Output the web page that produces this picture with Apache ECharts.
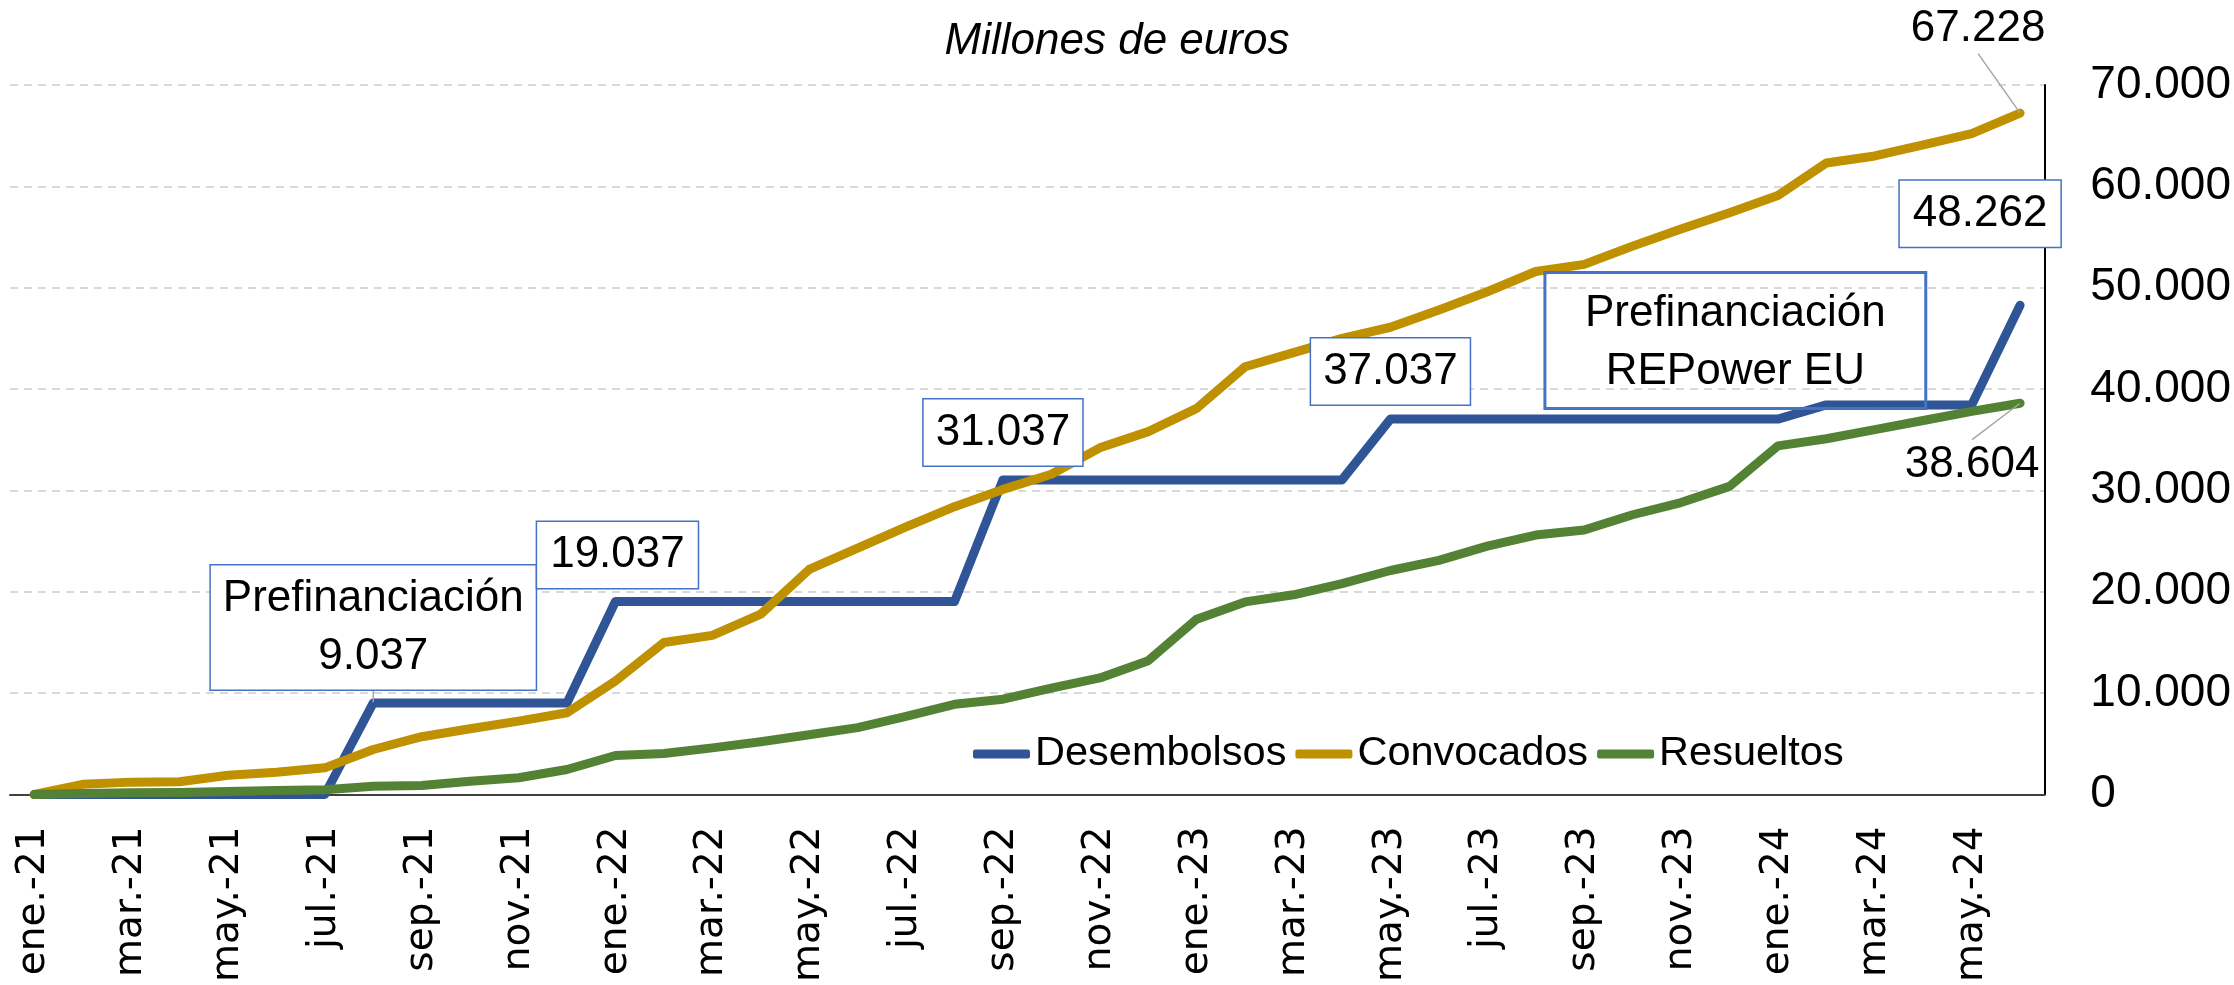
<!DOCTYPE html>
<html>
<head>
<meta charset="utf-8">
<script src="https://cdn.jsdelivr.net/npm/echarts@6/dist/echarts.min.js"></script>
<style>html,body{margin:0;padding:0;background:#fff}#c{width:2234px;height:985px}</style>
</head>
<body>
<div id="c"></div>
<script>
// ---- data ----
const categories = [
  'ene.-21','feb.-21','mar.-21','abr.-21','may.-21','jun.-21','jul.-21','ago.-21','sep.-21','oct.-21','nov.-21','dic.-21',
  'ene.-22','feb.-22','mar.-22','abr.-22','may.-22','jun.-22','jul.-22','ago.-22','sep.-22','oct.-22','nov.-22','dic.-22',
  'ene.-23','feb.-23','mar.-23','abr.-23','may.-23','jun.-23','jul.-23','ago.-23','sep.-23','oct.-23','nov.-23','dic.-23',
  'ene.-24','feb.-24','mar.-24','abr.-24','may.-24','jun.-24'
];
const desembolsos = [0,0,0,0,0,0,0,9037,9037,9037,9037,9037,19037,19037,19037,19037,19037,19037,19037,19037,
  31037,31037,31037,31037,31037,31037,31037,31037,37037,37037,37037,37037,37037,37037,37037,37037,37037,
  38437,38437,38437,38437,48262];
const convocados = [0,1000,1220,1250,1900,2200,2630,4440,5700,6480,7240,8060,11200,15000,15700,17800,22200,24300,
  26400,28400,30100,31600,34200,35800,38100,42200,43600,45000,46100,47800,49600,51600,52300,54100,55800,57400,
  59100,62300,63000,64100,65200,67228];
const resueltos = [0,100,160,200,300,400,460,820,890,1300,1650,2470,3850,4050,4600,5200,5900,6600,7700,8900,
  9400,10500,11500,13200,17300,19000,19700,20800,22100,23100,24500,25600,26100,27600,28800,30400,34400,35100,
  36000,36900,37800,38604];
const seriesNames = ['Desembolsos','Convocados','Resueltos'];
const yTicks = {min: 0, max: 70000, step: 10000};
const title = 'Millones de euros';
// annotated points (text content)
const annotations = [
  {series:'Desembolsos', index:7,  prefix:'Prefinanciación'},
  {series:'Desembolsos', index:12},
  {series:'Desembolsos', index:20},
  {series:'Desembolsos', index:28},
  {series:'Desembolsos', index:37, text:'Prefinanciación\nREPower EU'},
  {series:'Desembolsos', index:41},
  {series:'Convocados',  index:41},
  {series:'Resueltos',   index:41}
];

// ---- styles / placement ----
const FONT = "'Liberation Sans','Arial',sans-serif";
const FS = 44;
const colors = {Desembolsos:'#2F5597', Convocados:'#BF9000', Resueltos:'#548235'};
const boxStyle = {backgroundColor:'#fff', borderColor:'#4472C4', borderWidth:1.5};
const placement = {
  'Desembolsos-7':  {box:true, position:'top', distance:5, padding:[4,12], layout:{dy:-8}, leader:true},
  'Desembolsos-12': {box:true, position:'top', distance:13, padding:[4,13], layout:{dx:2}},
  'Desembolsos-20': {box:true, position:'top', distance:14, padding:[4,12], layout:{dx:0}},
  'Desembolsos-28': {box:true, position:'top', distance:14, padding:[4,12], layout:{dx:0}},
  'Desembolsos-37': {box:true, position:'top', distance:0, padding:[12,40,8,40], transparent:true, layout:{dx:-91, dy:4}},
  'Desembolsos-41': {box:true, position:'top', distance:58, padding:[4,13], layout:{dx:-40}},
  'Convocados-41':  {box:false, position:'top', distance:5, layout:{dx:-42, dy:-54}, leader:true},
  'Resueltos-41':   {box:false, position:'bottom', distance:5, layout:{dx:-48, dy:31}, leader:true}
};

function fmt(v){ return String(v).replace(/\B(?=(\d{3})+(?!\d))/g,'.'); }

function buildData(name, values){
  return values.map((v,i)=>{
    const a = annotations.find(x=>x.series===name && x.index===i);
    if(!a) return v;
    const p = placement[name+'-'+i];
    const text = a.text ? a.text : (a.prefix ? a.prefix+'\n'+fmt(v) : fmt(v));
    const label = {
      show:true, formatter:text, position:p.position, distance:p.distance,
      fontFamily:FONT, fontSize:FS, lineHeight:58, color:'#000', align:'center'
    };
    if(p.box){
      Object.assign(label, boxStyle, {padding:p.padding});
      if(p.transparent) label.backgroundColor = 'transparent';
    } else {
      label.lineHeight = 50;
    }
    return {value:v, label:label, labelLine:{show:!!p.leader, lineStyle:{color:'#a6a6a6', width:1.5}}};
  });
}

const valuesByName = {Desembolsos:desembolsos, Convocados:convocados, Resueltos:resueltos};

const series = seriesNames.map(name=>({
  name:name, type:'line', data:buildData(name, valuesByName[name]),
  symbol:'circle', symbolSize:1, showSymbol:true,
  lineStyle:{width:9, color:colors[name], cap:'round', join:'round'},
  itemStyle:{color:colors[name]},
  label:{show:false},
  labelLine:{show:false, lineStyle:{color:'#a6a6a6', width:1.5}},
  labelLayout: function(params){
    const p = placement[name+'-'+params.dataIndex];
    return (p && p.layout) ? p.layout : {};
  },
  emphasis:{disabled:true},
  animation:false
}));

const chart = echarts.init(document.getElementById('c'), null, {renderer:'canvas'});
chart.setOption({
  animation:false,
  backgroundColor:'#fff',
  title:{text:title, left:'center', top:16, padding:0,
    textStyle:{fontFamily:FONT, fontStyle:'italic', fontWeight:'normal', fontSize:FS, lineHeight:52, color:'#000'}},
  legend:{data:seriesNames, left:968, top:728, icon:'roundRect', itemWidth:57, itemHeight:9, itemGap:9,
    textStyle:{fontFamily:FONT, fontSize:41.5, color:'#000'}},
  grid:{left:10, right:184, top:85, bottom:189},
  xAxis:{type:'category', data:categories, boundaryGap:true,
    axisLine:{show:true, lineStyle:{color:'#404040', width:2}},
    axisTick:{show:false},
    axisLabel:{interval:1, rotate:90, fontFamily:'DejaVu Sans', fontSize:39, color:'#000', margin:32}},
  yAxis:{type:'value', position:'right', min:yTicks.min, max:yTicks.max, interval:yTicks.step,
    axisLine:{show:true, lineStyle:{color:'#000', width:2}},
    axisTick:{show:false},
    splitLine:{show:true, lineStyle:{color:'#d9d9d9', width:2, type:[8,6]}},
    axisLabel:{fontFamily:FONT, fontSize:46, color:'#000', margin:46, formatter:v=>fmt(v)}},
  series:series
});
</script>
</body>
</html>
